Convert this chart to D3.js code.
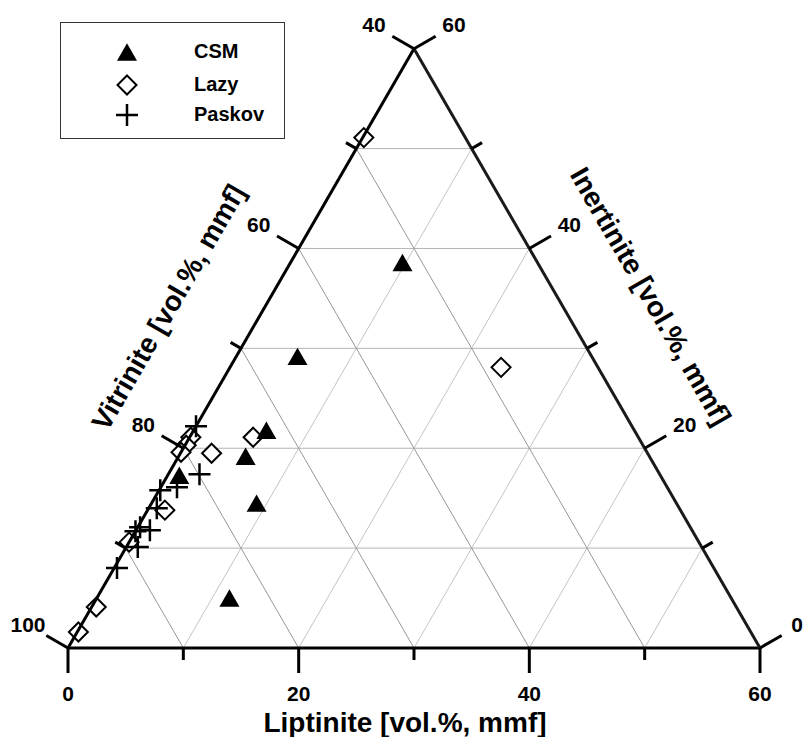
<!DOCTYPE html>
<html>
<head>
<meta charset="utf-8">
<script src="https://cdn.jsdelivr.net/npm/d3@7"></script>
<style>
  html, body { margin: 0; padding: 0; background: #fff; }
  svg { display: block; }
  text { font-family: "Liberation Sans", Arial, Helvetica, sans-serif; font-weight: bold; fill: #000; }
</style>
</head>
<body>
<script>
// Maceral composition (vol.%, mineral-matter free); vitrinite = 100 - liptinite - inertinite
const csmLiptinite   = [9.7, 5.3, 6.3, 5.8, 9.1, 11.5, 1.0];
const csmInertinite  = [38.6, 29.2, 21.8, 19.2, 14.5, 5.0, 17.3];

const lazyLiptinite  = [0.1, 23.5, 5.5, 2.7, 0.1, 0.1, 0.0, 1.5, 0.0, 0.4, 0.1];
const lazyInertinite = [51.1, 28.1, 21.1, 19.5, 21.1, 20.3, 19.6, 13.8, 10.6, 4.1, 1.6];

const paskovLiptinite  = [0.0, 2.7, 0.1, 1.4, 0.7, 0.2, 1.2, 1.0, 0.25, 0.0];
const paskovInertinite = [22.2, 17.4, 15.8, 16.1, 14.0, 12.1, 11.8, 10.1, 8.0, 11.7];

// Axis ticks (grid every 10 %, labels every 20 %)
const gridSteps = [10, 20, 30, 40, 50];
const tickSteps = [0, 10, 20, 30, 40, 50, 60];
const liptiniteLabels  = ["0", "20", "40", "60"];
const vitriniteLabels  = ["100", "80", "60", "40"];
const inertiniteLabels = ["0", "20", "40", "60"];

const seriesNames = ["CSM", "Lazy", "Paskov"];

const W = 804, H = 737;
const origin = [68, 648];
const side = 692;
const SQ3 = Math.sqrt(3) / 2;

const scale = d3.scaleLinear().domain([0, 60]).range([0, side]);
const project = (L, I) => {
  const a = scale(L), b = scale(I);
  return [origin[0] + a + b * 0.5, origin[1] - b * SQ3];
};

const svg = d3.select("body").append("svg").attr("width", W).attr("height", H);

// ---- grid ----
const grid = svg.append("g").attr("fill", "none").attr("stroke-width", 1);
// constant inertinite (horizontal)
gridSteps.forEach(v => {
  const p0 = project(0, v), p1 = project(60 - v, v);
  grid.append("line").attr("x1", p0[0]).attr("y1", p0[1]).attr("x2", p1[0]).attr("y2", p1[1]).attr("stroke", "#b4b4b4");
});
// constant liptinite (parallel to left edge)
gridSteps.forEach(v => {
  const p0 = project(v, 0), p1 = project(v, 60 - v);
  grid.append("line").attr("x1", p0[0]).attr("y1", p0[1]).attr("x2", p1[0]).attr("y2", p1[1]).attr("stroke", "#c4c4c4");
});
// constant vitrinite (parallel to right edge)
gridSteps.forEach(v => {
  const p0 = project(v, 0), p1 = project(0, v);
  grid.append("line").attr("x1", p0[0]).attr("y1", p0[1]).attr("x2", p1[0]).attr("y2", p1[1]).attr("stroke", "#979797");
});

// ---- markers ----
const triPath = "M0,-8.7L10,8.7L-10,8.7Z";
const diaPath = "M0,-9.5L9.5,0L0,9.5L-9.5,0Z";
const plusPath = "M-11,0H11M0,-11V11";

function drawMarker(g, kind, x, y) {
  if (kind === 0) {
    g.append("path").attr("d", triPath).attr("transform", `translate(${x},${y})`).attr("fill", "#000");
  } else if (kind === 1) {
    g.append("path").attr("d", diaPath).attr("transform", `translate(${x},${y})`)
      .attr("fill", "#fff").attr("stroke", "#000").attr("stroke-width", 2);
  } else {
    g.append("path").attr("d", plusPath).attr("transform", `translate(${x},${y})`)
      .attr("fill", "none").attr("stroke", "#000").attr("stroke-width", 2.5);
  }
}

const marks = svg.append("g");
const series = [
  [lazyLiptinite, lazyInertinite],
  [csmLiptinite, csmInertinite],
  [paskovLiptinite, paskovInertinite]
];
const kinds = [1, 0, 2];
series.forEach(([ls, is], k) => {
  ls.forEach((l, i) => {
    const p = project(l, is[i]);
    drawMarker(marks, kinds[k], p[0], p[1]);
  });
});

// ---- triangle frame and ticks ----
const frame = svg.append("g").attr("stroke", "#000").attr("stroke-width", 3).attr("fill", "none").attr("stroke-linecap", "butt");
const A = project(0, 0), Bp = project(60, 0), T = project(0, 60);
frame.append("line").attr("x1", A[0]).attr("y1", A[1]).attr("x2", Bp[0]).attr("y2", Bp[1]);
frame.append("line").attr("x1", A[0]).attr("y1", A[1]).attr("x2", T[0]).attr("y2", T[1]);
frame.append("line").attr("x1", Bp[0]).attr("y1", Bp[1]).attr("x2", T[0]).attr("y2", T[1]).attr("stroke", "#1a1a1a");

const majorLen = 25, minorLen = 12;
const axes = [
  { pt: v => project(v, 0),      dir: [0, 1],        labels: liptiniteLabels,  off: [0, 45] },
  { pt: v => project(0, v),      dir: [-SQ3, -0.5],  labels: vitriniteLabels,  off: [-40, -24] },
  { pt: v => project(60 - v, v), dir: [SQ3, -0.5],   labels: inertiniteLabels, off: [40, -24] }
];
axes.forEach(ax => {
  tickSteps.forEach(v => {
    const p = ax.pt(v);
    const len = v % 20 === 0 ? majorLen : minorLen;
    frame.append("line").attr("x1", p[0]).attr("y1", p[1])
      .attr("x2", p[0] + ax.dir[0] * len).attr("y2", p[1] + ax.dir[1] * len);
  });
  ax.labels.forEach((lab, i) => {
    const p = ax.pt(i * 20);
    let x = p[0] + ax.off[0];
    let anchor = "middle";
    // keep the label at the right corner inside the drawing area
    if (x + 7 > W) { x = W - 1; anchor = "end"; }
    svg.append("text").attr("x", x).attr("y", p[1] + ax.off[1])
      .attr("dy", "0.36em").attr("text-anchor", anchor).attr("font-size", 21).text(lab);
  });
});

// ---- axis titles ----
svg.append("text").attr("x", 405).attr("y", 722).attr("dy", "0.36em").attr("text-anchor", "middle")
  .attr("font-size", 28).text("Liptinite [vol.%, mmf]");
svg.append("text").attr("transform", "translate(168,307) rotate(-60)").attr("dy", "0.36em")
  .attr("text-anchor", "middle").attr("font-size", 28).text("Vitrinite [vol.%, mmf]");
svg.append("text").attr("transform", "translate(651,296) rotate(60)").attr("dy", "0.36em")
  .attr("text-anchor", "middle").attr("font-size", 28).text("Inertinite [vol.%, mmf]");

// ---- legend ----
const legend = svg.append("g");
legend.append("rect").attr("x", 60.5).attr("y", 22.5).attr("width", 224).attr("height", 116)
  .attr("fill", "#fff").attr("stroke", "#333").attr("stroke-width", 1);
const legendY = [52, 85, 115];
[0, 1, 2].forEach(k => {
  drawMarker(legend, k, 127, legendY[k]);
  legend.append("text").attr("x", 194).attr("y", legendY[k] - 1).attr("dy", "0.36em")
    .attr("font-size", 20).text(seriesNames[k]);
});
</script>
</body>
</html>
